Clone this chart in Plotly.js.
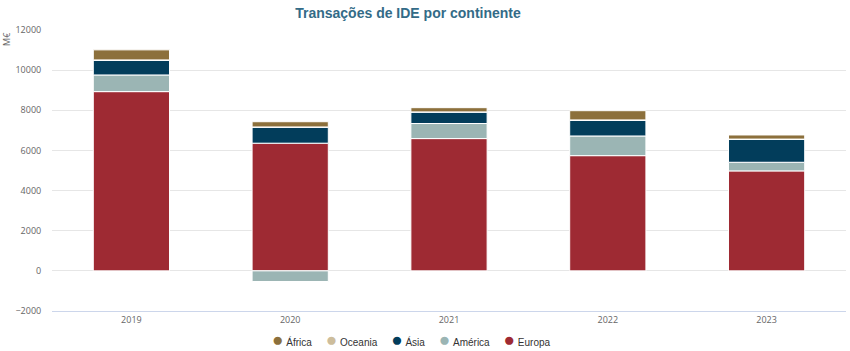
<!DOCTYPE html>
<html><head><meta charset="utf-8">
<script src="https://cdn.plot.ly/plotly-3.0.1.min.js"></script>
<style>html,body{margin:0;padding:0;background:#fff}#chart{width:850px;height:351px}</style>
</head><body><div id="chart"></div>
<script>
const years = ["2019", "2020", "2021", "2022", "2023"];
const europa = [8930, 6360, 6590, 5740, 4980];
const america = [830, -530, 750, 980, 430];
const asia = [730, 800, 570, 780, 1145];
const oceania = [20, 10, 10, 20, 10];
const africa = [500, 260, 210, 460, 205];

const seriesNames = ["Europa", "América", "Ásia", "Oceania", "África"];
const seriesData = [europa, america, asia, oceania, africa];
const colors = ["#9e2a33", "#9bb5b4", "#023d5b", "#cdbd9c", "#8c703c"];

const traces = [];
seriesNames.forEach((n, i) => {
  traces.push({type: "bar", name: n, x: years, y: seriesData[i], showlegend: false,
    marker: {color: colors[i], line: {color: "#ffffff", width: 1}}});
});

// legend built as a text line (África, Oceania, Ásia, América, Europa)
const legendOrder = [4, 3, 2, 1, 0];
const legendText = legendOrder.map(i =>
  '<span style="color:' + colors[i] + ';font-size:19px">●</span>&nbsp;' + seriesNames[i]
).join('&nbsp;&nbsp;&nbsp;&nbsp;&nbsp;');

const layout = {
  width: 850, height: 351,
  margin: {l: 52, r: 4, t: 30, b: 40},
  barmode: "relative", bargap: 0.52,
  paper_bgcolor: "#fff", plot_bgcolor: "#fff",
  showlegend: false,
  font: {family: "Open Sans, DejaVu Sans, sans-serif", size: 9, color: "#666"},
  title: {text: "<b>Transações de IDE por continente</b>", x: 0.48, xanchor: "center", yref: "container", y: 0.978, yanchor: "top",
    font: {size: 14, color: "#336b87", family: "Liberation Sans, Arial, sans-serif"}},
  xaxis: {type: "category", showgrid: false, showline: true, linecolor: "#ccd6eb", linewidth: 1,
    ticks: "", tickfont: {size: 9, color: "#666"}, zeroline: false},
  yaxis: {range: [-2000, 12000], dtick: 2000, tickformat: "d", showgrid: true, gridcolor: "#e6e6e6",
    zeroline: false, showline: false, tickfont: {size: 9, color: "#666"}, ticklen: 8, tickcolor: "#fff", ticks: "outside"},
  annotations: [
    {text: "M€", xref: "paper", yref: "paper", x: -0.058, y: 1.0, xanchor: "center", yanchor: "top",
      textangle: -90, showarrow: false, font: {size: 9, color: "#666"}},
    {text: legendText, xref: "paper", yref: "paper", x: 0.453, y: -0.10, xanchor: "center", yanchor: "middle",
      showarrow: false, font: {size: 10, color: "#333", family: "Liberation Sans, Arial, sans-serif"}}
  ]
};
Plotly.newPlot("chart", traces, layout, {displayModeBar: false, staticPlot: true});
</script></body></html>
